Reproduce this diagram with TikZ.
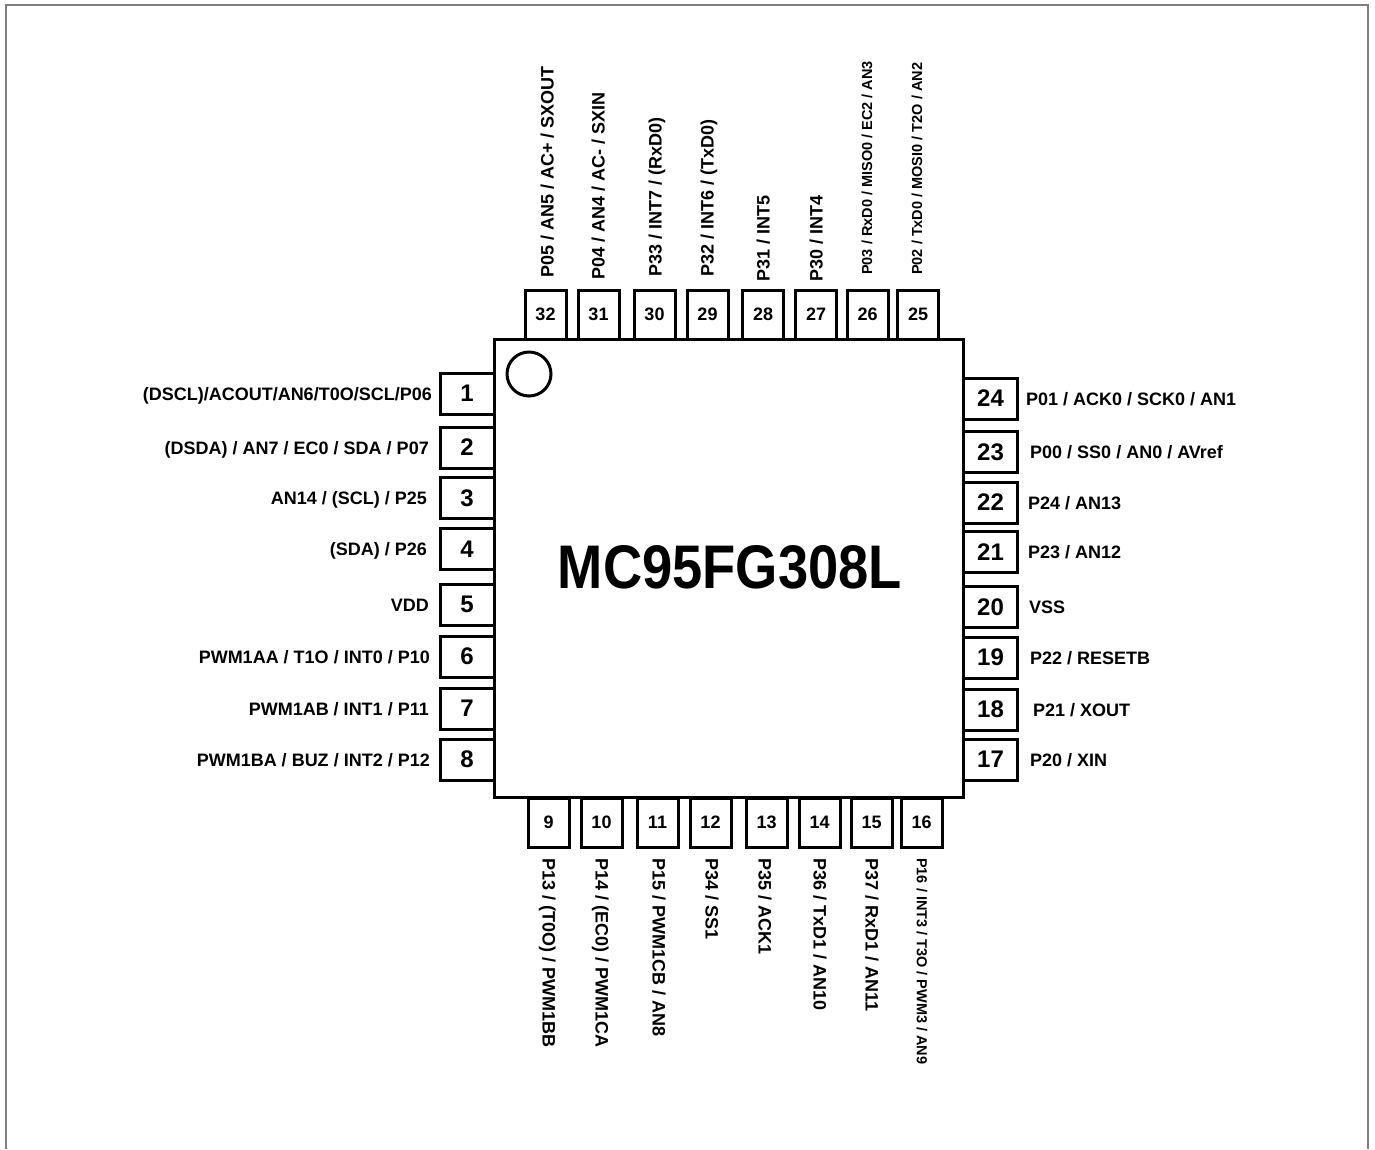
\documentclass[tikz,border=0pt]{standalone}
\usepackage{fontspec}
\setmainfont{Liberation Sans}
\begin{document}
\begin{tikzpicture}[x=1pt,y=-1pt,
  pinbox/.style={draw, line width=3pt, fill=white, inner sep=0pt, font=\bfseries\fontsize{24}{24}\selectfont},
  sidebox/.style={pinbox, minimum width=54pt, minimum height=41pt},
  tbbox/.style={pinbox, minimum width=41pt, minimum height=49pt, font=\bfseries\fontsize{18}{18}\selectfont},
  lab/.style={inner sep=0pt, font=\bfseries\fontsize{18}{18}\selectfont, text height=13pt, text depth=0pt},
  slab/.style={inner sep=0pt, font=\bfseries\fontsize{14.5}{14.5}\selectfont, text height=10.4pt, text depth=0pt},
  llab/.style={lab, anchor=east},
  rlab/.style={lab, anchor=west},
  tlab/.style={lab, rotate=90, anchor=west},
  tslab/.style={slab, rotate=90, anchor=west},
  blab/.style={lab, rotate=-90, anchor=west},
  bslab/.style={slab, rotate=-90, anchor=west}
]
\useasboundingbox (0,0) rectangle (1375,1149);
\draw[gray, line width=2pt] (6,1149) -- (6,5) -- (1368,5) -- (1368,1149);

% left pins
\node[sidebox] (p1) at (467,393.5) {1};
\node[sidebox] (p2) at (467,447.5) {2};
\node[sidebox] (p3) at (467,498) {3};
\node[sidebox] (p4) at (467,549) {4};
\node[sidebox] (p5) at (467,604.5) {5};
\node[sidebox] (p6) at (467,656.5) {6};
\node[sidebox] (p7) at (467,708.5) {7};
\node[sidebox] (p8) at (467,759.5) {8};
% right pins
\node[sidebox] (p24) at (990.5,398.5) {24};
\node[sidebox] (p23) at (990.5,452) {23};
\node[sidebox] (p22) at (990.5,502.5) {22};
\node[sidebox] (p21) at (990.5,552) {21};
\node[sidebox] (p20) at (990.5,607) {20};
\node[sidebox] (p19) at (990.5,657.5) {19};
\node[sidebox] (p18) at (990.5,709.5) {18};
\node[sidebox] (p17) at (990.5,759.5) {17};
% top pins
\node[tbbox] (p32) at (545.5,314.5) {32};
\node[tbbox] (p31) at (598.5,314.5) {31};
\node[tbbox] (p30) at (654.5,314.5) {30};
\node[tbbox] (p29) at (707.5,314.5) {29};
\node[tbbox] (p28) at (763,314.5) {28};
\node[tbbox] (p27) at (816,314.5) {27};
\node[tbbox] (p26) at (867.5,314.5) {26};
\node[tbbox] (p25) at (918,314.5) {25};
% bottom pins
\node[tbbox] (p9) at (548.5,822.5) {9};
\node[tbbox] (p10) at (601.5,822.5) {10};
\node[tbbox] (p11) at (657.5,822.5) {11};
\node[tbbox] (p12) at (710.5,822.5) {12};
\node[tbbox] (p13) at (766.5,822.5) {13};
\node[tbbox] (p14) at (819.5,822.5) {14};
\node[tbbox] (p15) at (871.5,822.5) {15};
\node[tbbox] (p16) at (921.5,822.5) {16};

% chip body
\node[draw, line width=3pt, fill=white, inner sep=0pt, minimum width=469pt, minimum height=458pt] (chip) at (728.5,568) {};
\node[draw, line width=3pt, circle, inner sep=0pt, minimum size=44pt] (dot) at (529,374) {};
\node[inner sep=0pt, font=\bfseries\fontsize{56}{56}\selectfont, xscale=0.97, yscale=1.1] (title) at (730,567) {MC95FG308L};

% left labels
\node[llab] (l1) at (432,393.5) {(DSCL)/ACOUT/AN6/T0O/SCL/P06};
\node[llab] (l2) at (429,447.5) {(DSDA) / AN7 / EC0 / SDA / P07};
\node[llab] (l3) at (427,498) {AN14 / (SCL) / P25};
\node[llab] (l4) at (427,549) {(SDA) / P26};
\node[llab] (l5) at (429,604.5) {VDD};
\node[llab] (l6) at (430,656.5) {PWM1AA / T1O / INT0 / P10};
\node[llab] (l7) at (429,708.5) {PWM1AB / INT1 / P11};
\node[llab] (l8) at (430,759.5) {PWM1BA / BUZ / INT2 / P12};
% right labels
\node[rlab] (l24) at (1026,398.5) {P01 / ACK0 / SCK0 / AN1};
\node[rlab] (l23) at (1030,452) {P00 / SS0 / AN0 / AVref};
\node[rlab] (l22) at (1028,502.5) {P24 / AN13};
\node[rlab] (l21) at (1028,552) {P23 / AN12};
\node[rlab] (l20) at (1029,607) {VSS};
\node[rlab] (l19) at (1030,657.5) {P22 / RESETB};
\node[rlab] (l18) at (1033,709.5) {P21 / XOUT};
\node[rlab] (l17) at (1030,759.5) {P20 / XIN};
% top labels
\node[tlab] (l32) at (547,278) {P05 / AN5 / AC+ / SXOUT};
\node[tlab] (l31) at (598,280) {P04 / AN4 / AC- / SXIN};
\node[tlab] (l30) at (655,277) {P33 / INT7 / (RxD0)};
\node[tlab] (l29) at (707,277) {P32 / INT6 / (TxD0)};
\node[tlab] (l28) at (763,282) {P31 / INT5};
\node[tlab] (l27) at (816,282) {P30 / INT4};
\node[tslab] (l26) at (867,275) {P03 / RxD0 / MISO0 / EC2 / AN3};
\node[tslab] (l25) at (917,275) {P02 / TxD0 / MOSI0 / T2O / AN2};
% bottom labels
\node[blab] (l9) at (549,858) {P13 / (T0O) / PWM1BB};
\node[blab] (l10) at (602,858) {P14 / (EC0) / PWM1CA};
\node[blab] (l11) at (659,858) {P15 / PWM1CB / AN8};
\node[blab] (l12) at (712,858) {P34 / SS1};
\node[blab] (l13) at (765,858) {P35 / ACK1};
\node[blab] (l14) at (820,858) {P36 / TxD1 / AN10};
\node[blab] (l15) at (872,858) {P37 / RxD1 / AN11};
\node[bslab] (l16) at (922,858) {P16 / INT3 / T3O / PWM3 / AN9};
\end{tikzpicture}
\end{document}
